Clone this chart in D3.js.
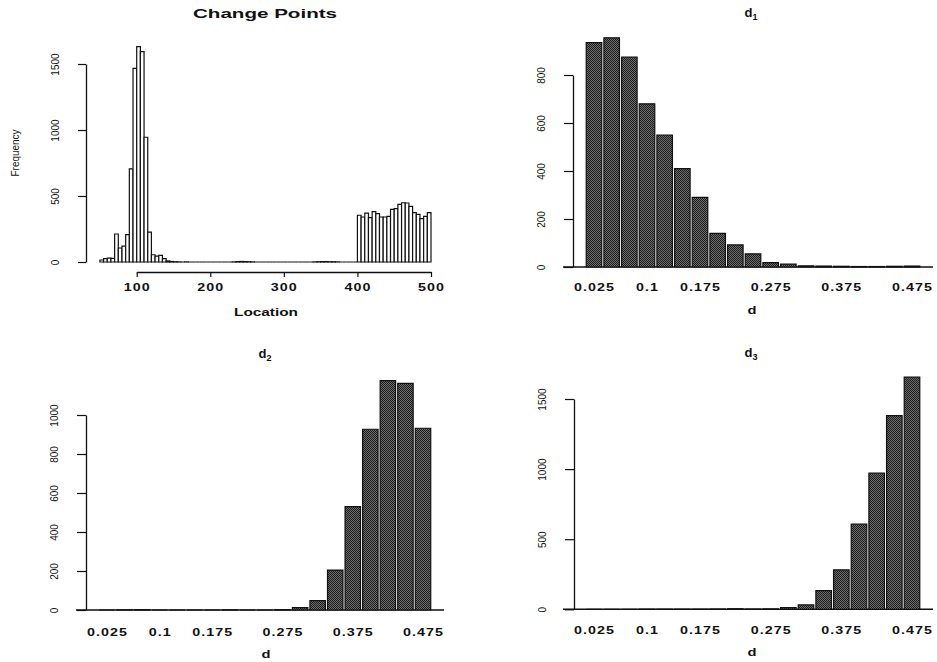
<!DOCTYPE html>
<html><head><meta charset="utf-8">
<script src="https://cdn.jsdelivr.net/npm/d3@7"></script>
<style>body{margin:0;background:#fff} svg{display:block}</style>
</head><body><svg id="c" width="937" height="662"></svg>
<script>
// ---- Data ----
const cpBinWidth = 5;
const cpBinStarts = d3.range(50, 500, 5);
const cpCounts = [
  15, 25, 30, 28, 212, 106, 121, 207, 705, 1467,
  1631, 1593, 945, 227, 55, 45, 50, 25, 8, 4,
  2, 1, 0, 1, 0, 0, 0, 0, 0, 0,
  0, 0, 0, 0, 0, 0, 1, 3, 4, 3,
  2, 1, 0, 0, 0, 0, 0, 0, 0, 0,
  0, 0, 0, 0, 0, 0, 0, 0, 1, 2,
  3, 3, 2, 2, 1, 0, 0, 0, 0, 0,
  354, 341, 371, 336, 381, 366, 341, 341, 346, 399,
  404, 437, 449, 447, 422, 374, 361, 328, 346, 374
];
const cpXTicks = [100, 200, 300, 400, 500];
const cpYTicks = [0, 500, 1000, 1500];

const dCategories = ["0.025","0.05","0.075","0.1","0.125","0.15","0.175","0.2","0.225","0.25",
                     "0.275","0.3","0.325","0.35","0.375","0.4","0.425","0.45","0.475"];
const dTickLabels = ["0.025","0.1","0.175","0.275","0.375","0.475"];
const d1Counts = [935, 955, 875, 680, 550, 410, 290, 140, 92, 55, 18, 12, 5, 4, 3, 2, 2, 3, 4];
const d2Counts = [0, 1, 2, 0, 0, 0, 0, 1, 0, 0, 2, 12, 48, 205, 530, 927, 1176, 1162, 932];
const d3Counts = [0, 0, 0, 1, 1, 1, 1, 2, 4, 2, 3, 12, 31, 133, 281, 607, 971, 1381, 1657];
const d1YTicks = [0, 200, 400, 600, 800];
const d2YTicks = [0, 200, 400, 600, 800, 1000];
const d3YTicks = [0, 500, 1000, 1500];

// ---- Drawing ----
const svg = d3.select("#c");
svg.append("rect").attr("width", 937).attr("height", 662).attr("fill", "#fff");

const defs = svg.append("defs");
const pat = defs.append("pattern").attr("id", "stip").attr("width", 2).attr("height", 2)
  .attr("patternUnits", "userSpaceOnUse");
pat.append("rect").attr("width", 2).attr("height", 2).attr("fill", "#6e6e6e");
pat.append("rect").attr("x", 0).attr("y", 0).attr("width", 1).attr("height", 1).attr("fill", "#1c1c1c");
pat.append("rect").attr("x", 1).attr("y", 1).attr("width", 1).attr("height", 1).attr("fill", "#1c1c1c");

const FONT = "'Liberation Sans', Arial, Helvetica, sans-serif";
const intFmt = d3.format("d");

function barPath(x0, x1, y0, y1) {
  return `M${x0},${y0}V${y1}H${x1}V${y0}Z`;
}
function styleYAxis(g, labelOffset) {
  g.select(".domain").attr("stroke", "#111").attr("stroke-width", 1.3);
  g.selectAll(".tick line").attr("stroke", "#111").attr("stroke-width", 1.2);
  g.selectAll(".tick text")
    .attr("x", null).attr("dy", null)
    .attr("text-anchor", "middle")
    .attr("transform", `translate(${-labelOffset},0) rotate(-90)`)
    .attr("font-family", FONT).attr("font-size", 10).attr("fill", "#111");
}
function styleXLabels(g) {
  g.selectAll(".tick text")
    .attr("font-family", FONT).attr("font-size", 11).attr("font-weight", "bold")
    .attr("letter-spacing", "0.8px")
    .attr("transform", "scale(1.3,1)")
    .attr("fill", "#111");
}
function title(x, y, txt, len, size) {
  svg.append("text").attr("x", x).attr("y", y).attr("text-anchor", "middle")
    .attr("font-family", FONT).attr("font-weight", "bold").attr("font-size", size)
    .attr("fill", "#111")
    .attr("textLength", len).attr("lengthAdjust", "spacingAndGlyphs")
    .text(txt);
}
function subTitle(x, y, base, sub) {
  const t = svg.append("text").attr("x", x).attr("y", y).attr("text-anchor", "middle")
    .attr("font-family", FONT).attr("font-weight", "bold").attr("font-size", 13).attr("fill", "#111");
  t.append("tspan").attr("transform", "scale(1.2,1)").text(base);
  t.append("tspan").attr("font-size", 9).attr("dy", 3).text(sub);
}

// ---- Panel 1: Change Points ----
{
  const x = d3.scaleLinear().domain([100, 500]).range([136.7, 431]);
  const y = d3.scaleLinear().domain([0, 1500]).range([262, 64]);
  const data = cpBinStarts.map((s, i) => ({s, v: cpCounts[i]}));
  svg.append("g").selectAll("path").data(data).join("path")
    .attr("d", d => barPath(x(d.s), x(d.s + cpBinWidth), y(0), y(d.v)))
    .attr("fill", "#fff").attr("stroke", "#111").attr("stroke-width", 1.2);

  const ya = svg.append("g").attr("transform", "translate(86,0)")
    .call(d3.axisLeft(y).tickValues(cpYTicks).tickFormat(intFmt).tickSize(8).tickSizeOuter(0));
  styleYAxis(ya, 27);

  const xa = svg.append("g").attr("transform", "translate(0,272)")
    .call(d3.axisBottom(x).tickValues(cpXTicks).tickFormat(intFmt).tickSize(5).tickSizeOuter(0).tickPadding(6));
  xa.select(".domain").attr("stroke", "#111").attr("stroke-width", 1.3);
  xa.selectAll(".tick line").attr("stroke", "#111").attr("stroke-width", 1.2);
  styleXLabels(xa);

  title(265, 18, "Change Points", 144, 13);
  title(266, 316, "Location", 64, 11.5);
  svg.append("text").attr("transform", "translate(19,153) rotate(-90)")
    .attr("text-anchor", "middle").attr("font-family", FONT).attr("font-size", 11)
    .attr("fill", "#111").attr("textLength", 47).attr("lengthAdjust", "spacingAndGlyphs")
    .text("Frequency");
}

// ---- Bar panels ----
function barPanel(cfg) {
  const x = d3.scalePoint().domain(dCategories).range(cfg.xr);
  const y = d3.scaleLinear().domain([0, d3.max(cfg.ticks)]).range(cfg.yr);
  const bw = x.step() * 0.88;
  svg.append("line")
    .attr("x1", x(dCategories[0]) - 31).attr("x2", x(dCategories[dCategories.length - 1]) + 21)
    .attr("y1", y(0)).attr("y2", y(0)).attr("stroke", "#111").attr("stroke-width", 1.4);
  svg.append("g").selectAll("path").data(dCategories.map((c, i) => ({c, v: cfg.values[i]})))
    .join("path")
    .attr("d", d => barPath(x(d.c) - bw / 2, x(d.c) + bw / 2, y(0), y(d.v)))
    .attr("fill", "url(#stip)").attr("stroke", "#111").attr("stroke-width", 1.2);
  const ya = svg.append("g").attr("transform", `translate(${cfg.axisX},0)`)
    .call(d3.axisLeft(y).tickValues(cfg.ticks).tickFormat(intFmt).tickSize(9).tickSizeOuter(0));
  styleYAxis(ya, 28);
  const xa = svg.append("g").attr("transform", `translate(0,${y(0)})`)
    .call(d3.axisBottom(x).tickValues(dTickLabels).tickSize(0).tickPadding(cfg.pad));
  xa.select(".domain").remove();
  styleXLabels(xa);
  subTitle(cfg.tx, cfg.ty, "d", cfg.sub);
  title(cfg.tx + 1, cfg.lx, "d", 9, 11.5);
}

barPanel({values: d1Counts, ticks: d1YTicks, xr: [594, 912], yr: [267, 75], axisX: 573,
          pad: 16, tx: 751, ty: 17, sub: "1", lx: 314});
barPanel({values: d2Counts, ticks: d2YTicks, xr: [107, 423], yr: [610, 415], axisX: 86,
          pad: 18, tx: 265, ty: 358, sub: "2", lx: 658});
barPanel({values: d3Counts, ticks: d3YTicks, xr: [594, 912], yr: [609.3, 399], axisX: 574,
          pad: 17, tx: 751, ty: 357, sub: "3", lx: 656});
</script>
</body></html>
